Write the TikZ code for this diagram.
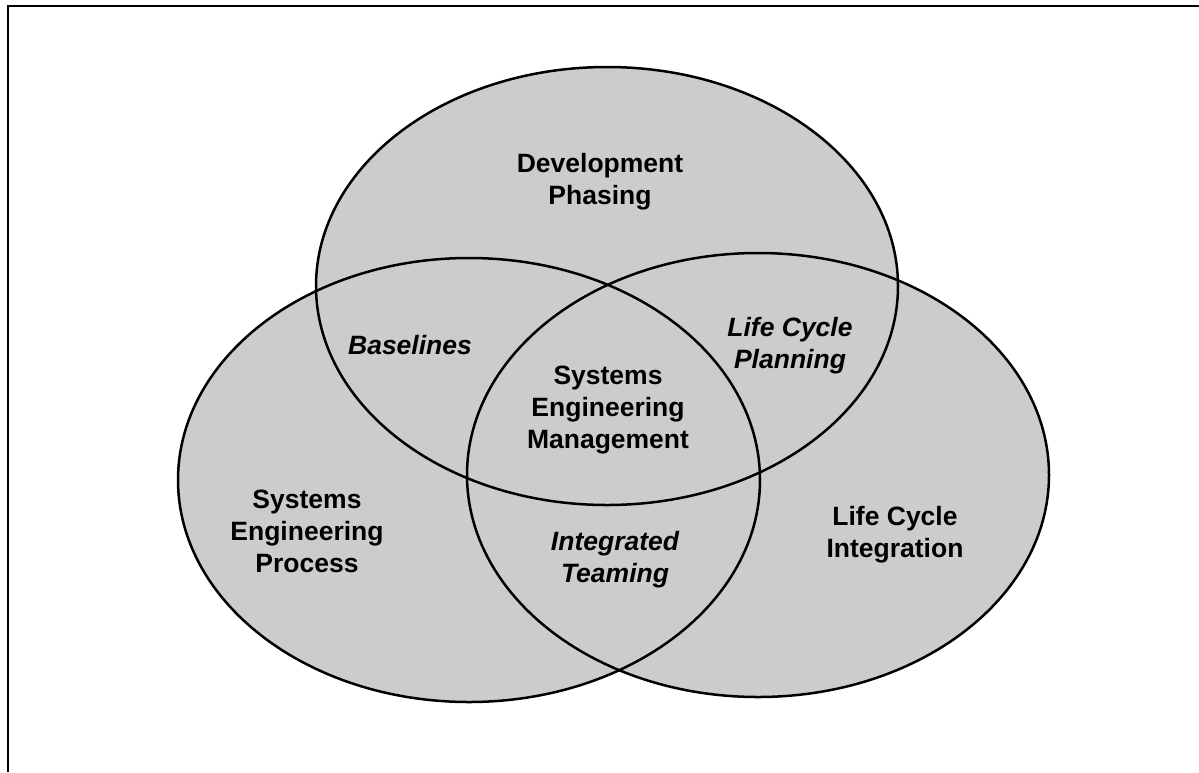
\documentclass[tikz,border=0pt]{standalone}
\usepackage{fontspec}
\setmainfont{Liberation Sans}
\usepackage{tikz}
\usetikzlibrary{calc}
\definecolor{vennfill}{HTML}{CCCCCC}
\tikzset{
  venn/.style={line width=2.5pt,draw=black},
  area/.style={font=\fontsize{26.5}{32}\selectfont\bfseries,align=center,inner sep=0pt},
  overlap/.style={area,font=\fontsize{26.5}{32}\selectfont\bfseries\itshape}
}

\begin{document}
\begin{tikzpicture}[x=1pt,y=-1pt]
    \useasboundingbox (0,0) rectangle (1199,772);

    \coordinate (DP) at (607,286);
    \coordinate (SEP) at (469,480);
    \coordinate (LCI) at (758,475);

    % frame, only top and left edges show
    \draw[line width=2.8pt] (8,772) -- (8,6) -- (1199,6);

    \fill[vennfill] (DP) ellipse [x radius=291pt,y radius=219pt];
    \fill[vennfill] (SEP) ellipse [x radius=291pt,y radius=222pt];
    \fill[vennfill] (LCI) ellipse [x radius=291pt,y radius=222pt];
    \draw[venn] (DP) ellipse [x radius=291pt,y radius=219pt];
    \draw[venn] (SEP) ellipse [x radius=291pt,y radius=222pt];
    \draw[venn] (LCI) ellipse [x radius=291pt,y radius=222pt];

    \node[area] (devph) at (600,182) {Development\\Phasing};
    \node[area] (seproc) at (307,531) {Systems\\Engineering\\Process};
    \node[area] (lcint) at (895,535) {Life Cycle\\Integration};
    \node[area] (semgmt) at (608,410) {Systems\\Engineering\\Management};

    \node[overlap] (basel) at (410,345) {Baselines};
    \node[overlap] (lcplan) at (790,346) {Life Cycle\\Planning};
    \node[overlap] (integ) at (615,560) {Integrated\\Teaming};
\end{tikzpicture}
\end{document}
